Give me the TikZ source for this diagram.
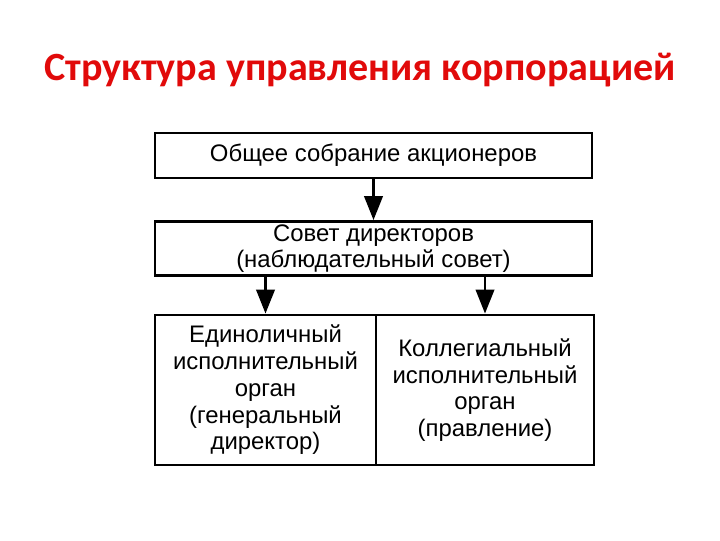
\documentclass[tikz,border=0pt]{standalone}
\usepackage{fontspec}
\setmainfont{Liberation Sans}
\newfontfamily\titlefont{Carlito}
\usepackage{tikz}
\usetikzlibrary{arrows.meta,calc,positioning}
\definecolor{tred}{RGB}{225,10,10}
\tikzset{
  title/.style={tred,font=\titlefont\bfseries\fontsize{28.5}{33}\selectfont},
  box/.style={draw=black,line width=2pt,align=center,inner sep=2pt,
    font=\fontsize{17}{19}\selectfont},
  arrow/.style={-{Triangle[length=17pt,width=13pt]},line width=2pt,black}
}

\begin{document}
\begin{tikzpicture}[x=0.025cm,y=-0.025cm]
  \useasboundingbox (0,0) rectangle (720,540);
  \node[title] (head) at (360,70) {Структура управления корпорацией};
  \node[box,minimum width=10.925cm,minimum height=1.125cm] (general) at (373.5,155.5)
    {Общее собрание акционеров};
  \node[box,minimum width=10.925cm,minimum height=1.325cm] (board) at (373.5,248.5)
    {Совет директоров\\(наблюдательный совет)};
  \node[box,minimum width=5.525cm,minimum height=3.75cm] (single) at (265.5,390)
    {Единоличный\\исполнительный\\орган\\(генеральный\\директор)};
  \node[box,minimum width=5.45cm,minimum height=3.75cm] (collegial) at (485,390)
    {Коллегиальный\\исполнительный\\орган\\(правление)};
  \draw[arrow] (general.south) -- (board.north);
  \draw[arrow] (board.south -| single) -- (single.north);
  \draw[arrow] (board.south -| collegial) -- (collegial.north);
\end{tikzpicture}
\end{document}
